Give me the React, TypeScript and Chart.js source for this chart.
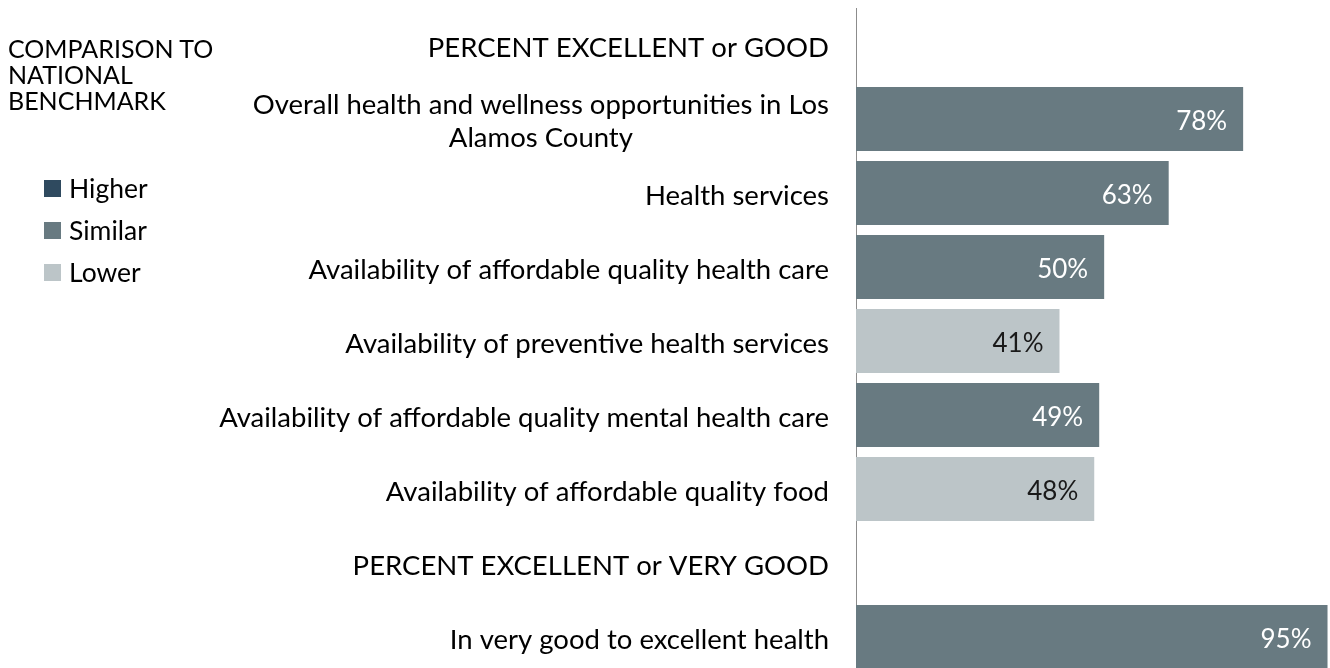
import React, { useEffect, useRef } from 'react';
import { Chart, registerables } from 'chart.js';

Chart.register(...registerables);

const categories: (string | string[])[] = [
  'PERCENT EXCELLENT or GOOD',
  ['Overall health and wellness opportunities in Los', 'Alamos County'],
  'Health services',
  'Availability of affordable quality health care',
  'Availability of preventive health services',
  'Availability of affordable quality mental health care',
  'Availability of affordable quality food',
  'PERCENT EXCELLENT or VERY GOOD',
  'In very good to excellent health',
];
const percentValues: (number | null)[] = [null, 78, 63, 50, 41, 49, 48, null, 95];
const benchmark: (string | null)[] = [null, 'Similar', 'Similar', 'Similar', 'Lower', 'Similar', 'Lower', null, 'Similar'];
const legendTitle: string[] = ['COMPARISON TO', 'NATIONAL', 'BENCHMARK'];
const legendItems: string[] = ['Higher', 'Similar', 'Lower'];

const FONT = 'Lato, "Open Sans", sans-serif';
const LABEL_SIZE = 27.5;
const VALUE_SIZE = 26;
const fillFor: Record<string, string> = { Higher: '#2f4a5f', Similar: '#687a81', Lower: '#bcc5c8' };
const textFor: Record<string, string> = { Higher: '#ffffff', Similar: '#ffffff', Lower: '#1a1a1a' };

export default function App() {
  const ref = useRef<HTMLCanvasElement>(null);

  useEffect(() => {
    if (!ref.current) return;
    const labelPlugin = {
      id: 'customLabels',
      afterDraw(chart: any) {
        const ctx = chart.ctx;
        const yScale = chart.scales.y;
        ctx.save();
        ctx.textBaseline = 'middle';
        ctx.fillStyle = '#000000';
        ctx.font = `${LABEL_SIZE}px ${FONT}`;
        const right = chart.chartArea.left - 27;
        categories.forEach((cat, i) => {
          const lines = Array.isArray(cat) ? cat : [cat];
          const cy = yScale.getPixelForValue(i) + 3;
          const maxW = Math.max(...lines.map((l) => ctx.measureText(l).width));
          const lh = 33;
          ctx.textAlign = 'center';
          lines.forEach((l, j) => {
            const ly = cy + (j - (lines.length - 1) / 2) * lh;
            ctx.fillText(l, right - maxW / 2, ly);
          });
        });
        ctx.font = `${VALUE_SIZE}px ${FONT}`;
        const meta = chart.getDatasetMeta(0);
        meta.data.forEach((bar: any, i: number) => {
          const v = percentValues[i];
          const b = benchmark[i];
          if (v == null || b == null) return;
          ctx.textAlign = 'right';
          ctx.fillStyle = textFor[b];
          ctx.fillText(`${v}%`, bar.x - 16, bar.y + 3);
        });
        ctx.restore();
      },
    };

    const chart = new Chart(ref.current, {
      type: 'bar',
      data: {
        labels: categories,
        datasets: [
          {
            label: 'Percent',
            data: percentValues,
            backgroundColor: benchmark.map((b) => (b ? fillFor[b] : 'transparent')),
            borderWidth: 0,
            barPercentage: 0.865,
            categoryPercentage: 1,
          },
        ],
      },
      options: {
        indexAxis: 'y',
        animation: false,
        responsive: true,
        maintainAspectRatio: false,
        layout: { padding: { top: 8, left: 0, right: 0, bottom: 0 } },
        plugins: {
          legend: { display: false },
          tooltip: { enabled: false },
        },
        scales: {
          x: { display: false, min: 0, max: 95.5 },
          y: {
            type: 'category',
            grid: { display: false },
            border: { display: true, color: '#8c8c8c', width: 1 },
            ticks: { display: false },
            afterFit: (s: any) => {
              s.width = 856;
            },
          },
        },
      },
      plugins: [labelPlugin],
    });
    return () => chart.destroy();
  }, []);

  return (
    <div style={{ position: 'absolute', left: 0, top: 0, width: 1330, height: 668, overflow: 'hidden', background: '#fff' }}>
      <div style={{ position: 'absolute', left: 0, top: 0, width: 1330, height: 674 }}>
        <canvas ref={ref} />
      </div>
      <div style={{ position: 'absolute', left: 8, top: 35, fontFamily: FONT, fontSize: 25, lineHeight: '26px', color: '#000' }}>
        {legendTitle.map((t) => (
          <div key={t}>{t}</div>
        ))}
      </div>
      <div style={{ position: 'absolute', left: 44, top: 167, fontFamily: FONT, fontSize: 26.5, color: '#000' }}>
        {legendItems.map((name) => (
          <div key={name} style={{ display: 'flex', alignItems: 'center', height: 42 }}>
            <span style={{ display: 'inline-block', width: 17, height: 17, background: fillFor[name], marginRight: 8 }} />
            <span>{name}</span>
          </div>
        ))}
      </div>
    </div>
  );
}
